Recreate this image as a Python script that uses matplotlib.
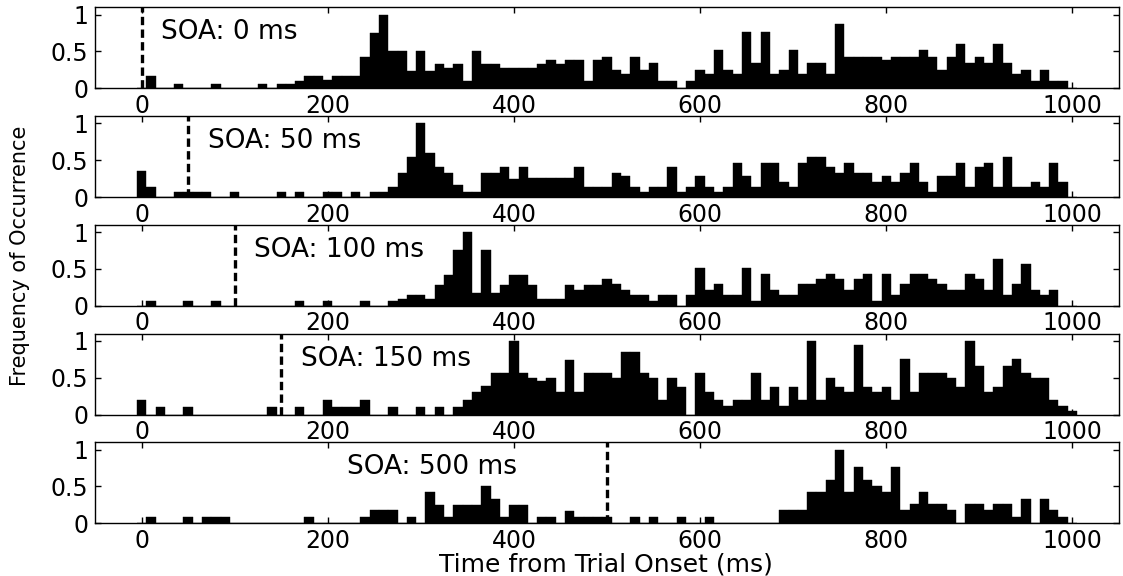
import matplotlib.pyplot as plt

# bin centres (ms) shared by all five histograms
bin_centres = list(range(0, 1001, 10))

soa_values = [0, 50, 100, 150, 500]
soa_labels = ['SOA: 0 ms', 'SOA: 50 ms', 'SOA: 100 ms', 'SOA: 150 ms', 'SOA: 500 ms']
label_x = [21, 71, 121, 171, 221]

freq_soa0 = [
    0, 0.17, 0, 0, 0.06, 0, 0, 0, 0.06, 0,
    0, 0, 0, 0.06, 0, 0.06, 0.06, 0.1, 0.17, 0.17,
    0.11, 0.17, 0.17, 0.17, 0.42, 0.75, 1.0, 0.5, 0.5, 0.23,
    0.5, 0.23, 0.33, 0.28, 0.33, 0.1, 0.5, 0.33, 0.33, 0.28,
    0.28, 0.28, 0.28, 0.33, 0.38, 0.33, 0.38, 0.38, 0.1, 0.38,
    0.43, 0.25, 0.19, 0.43, 0.25, 0.34, 0.1, 0.1, 0, 0.1,
    0.25, 0.19, 0.52, 0.25, 0.19, 0.77, 0.35, 0.77, 0.19, 0.25,
    0.52, 0.19, 0.34, 0.34, 0.19, 0.87, 0.43, 0.43, 0.43, 0.43,
    0.38, 0.43, 0.43, 0.43, 0.52, 0.43, 0.25, 0.43, 0.6, 0.34,
    0.43, 0.34, 0.6, 0.34, 0.19, 0.25, 0.1, 0.25, 0.1, 0.1,
    0]

freq_soa50 = [
    0.35, 0.13, 0, 0, 0.07, 0.07, 0.07, 0.07, 0, 0,
    0.07, 0, 0, 0, 0, 0.07, 0, 0.07, 0, 0,
    0.07, 0.07, 0, 0.07, 0, 0.07, 0.07, 0.13, 0.33, 0.54,
    1.0, 0.6, 0.41, 0.33, 0.17, 0.07, 0.07, 0.33, 0.33, 0.41,
    0.24, 0.41, 0.26, 0.26, 0.26, 0.26, 0.26, 0.41, 0.13, 0.13,
    0.13, 0.33, 0.28, 0.13, 0.07, 0.13, 0.13, 0.41, 0.07, 0.13,
    0.28, 0.13, 0.07, 0.13, 0.46, 0.28, 0.13, 0.46, 0.46, 0.2,
    0.13, 0.46, 0.54, 0.54, 0.41, 0.33, 0.46, 0.33, 0.33, 0.2,
    0.28, 0.2, 0.33, 0.46, 0.2, 0.07, 0.28, 0.28, 0.46, 0.13,
    0.41, 0.46, 0.13, 0.54, 0.13, 0.13, 0.2, 0.13, 0.46, 0.2,
    0]

freq_soa100 = [
    0, 0.06, 0, 0, 0, 0.06, 0, 0, 0.06, 0,
    0, 0, 0, 0, 0, 0, 0, 0.06, 0, 0,
    0.06, 0, 0, 0, 0.06, 0, 0, 0.06, 0.09, 0.14,
    0.14, 0.09, 0.28, 0.42, 0.76, 1.0, 0.17, 0.76, 0.17, 0.28,
    0.42, 0.42, 0.28, 0.09, 0.09, 0.09, 0.28, 0.22, 0.28, 0.28,
    0.36, 0.29, 0.22, 0.14, 0.14, 0.07, 0.14, 0.14, 0, 0.14,
    0.51, 0.22, 0.29, 0.14, 0.14, 0.51, 0.07, 0.43, 0.22, 0.14,
    0.14, 0.29, 0.29, 0.36, 0.43, 0.36, 0.22, 0.36, 0.43, 0.07,
    0.43, 0.14, 0.29, 0.43, 0.43, 0.36, 0.29, 0.22, 0.22, 0.43,
    0.36, 0.22, 0.64, 0.14, 0.29, 0.57, 0.22, 0.14, 0.22, 0,
    0]

freq_soa150 = [
    0.2, 0, 0.1, 0, 0, 0.1, 0, 0, 0, 0,
    0, 0, 0, 0, 0.1, 0, 0, 0.1, 0, 0,
    0.2, 0.1, 0.1, 0.1, 0.2, 0, 0, 0.1, 0, 0,
    0.1, 0, 0.1, 0, 0.1, 0.2, 0.3, 0.39, 0.57, 0.57,
    1.0, 0.57, 0.49, 0.45, 0.49, 0.3, 0.74, 0.3, 0.57, 0.57,
    0.57, 0.49, 0.85, 0.85, 0.57, 0.49, 0.2, 0.49, 0.37, 0,
    0.57, 0.3, 0.2, 0.11, 0.2, 0.2, 0.57, 0.2, 0.37, 0.11,
    0.37, 0.2, 1.0, 0.2, 0.49, 0.37, 0.3, 0.95, 0.37, 0.3,
    0.37, 0.2, 0.75, 0.3, 0.57, 0.57, 0.57, 0.49, 0.37, 1.0,
    0.66, 0.3, 0.37, 0.66, 0.75, 0.57, 0.49, 0.49, 0.2, 0.11,
    0.05]

freq_soa500 = [
    0, 0.08, 0, 0, 0, 0.08, 0, 0.08, 0.08, 0.08,
    0, 0, 0, 0, 0, 0, 0, 0, 0.08, 0,
    0, 0, 0, 0, 0.08, 0.18, 0.18, 0.18, 0, 0.08,
    0, 0.42, 0.25, 0.08, 0.25, 0.25, 0.25, 0.5, 0.33, 0.08,
    0.25, 0.25, 0, 0.08, 0.08, 0, 0.17, 0.08, 0.08, 0.08,
    0.08, 0, 0, 0.08, 0, 0.08, 0, 0, 0.08, 0,
    0, 0.08, 0, 0, 0, 0, 0, 0, 0, 0.18,
    0.18, 0.18, 0.42, 0.42, 0.59, 0.99, 0.42, 0.76, 0.59, 0.5,
    0.42, 0.76, 0.18, 0.26, 0.42, 0.26, 0.26, 0.18, 0, 0.26,
    0.26, 0.18, 0.26, 0.26, 0.08, 0.33, 0, 0.33, 0.18, 0.08,
    0]

all_freqs = [freq_soa0, freq_soa50, freq_soa100, freq_soa150, freq_soa500]

plt.rcParams['font.family'] = ['DejaVu Sans']

fig, axes = plt.subplots(5, 1, figsize=(11.23, 5.76), dpi=100)
fig.subplots_adjust(left=0.0846, right=0.9964, top=0.9873, bottom=0.0915, hspace=0.343)

for ax, freqs, soa, label, lx in zip(axes, all_freqs, soa_values, soa_labels, label_x):
    ax.bar(bin_centres, freqs, width=10, color='black', edgecolor='black', linewidth=0.3)
    ax.axvline(soa, color='black', linewidth=2.4, linestyle=(0, (2.5, 1.3)))
    ax.text(lx, 0.76, label, fontsize=19, ha='left', va='center')

    ax.set_xlim(-50, 1050)
    ax.set_ylim(0, 1.1)
    ax.set_xticks([0, 200, 400, 600, 800, 1000])
    ax.set_yticks([0, 0.5, 1])
    ax.set_yticklabels(['0', '0.5', '1'])
    ax.tick_params(direction='in', top=True, right=True, length=4, width=1,
                   labelsize=17, pad=5)
    ax.tick_params(axis='x', pad=4)
    for spine in ax.spines.values():
        spine.set_linewidth(1.0)

# x label sits right under the bottom tick labels, centred on the axes
fig.text(0.54, 0.008, 'Time from Trial Onset (ms)', fontsize=18, ha='center', va='baseline')
fig.text(0.018, 0.556, 'Frequency of Occurrence', fontsize=15, rotation=90,
         ha='center', va='center')

plt.savefig('out.png', dpi=100)
